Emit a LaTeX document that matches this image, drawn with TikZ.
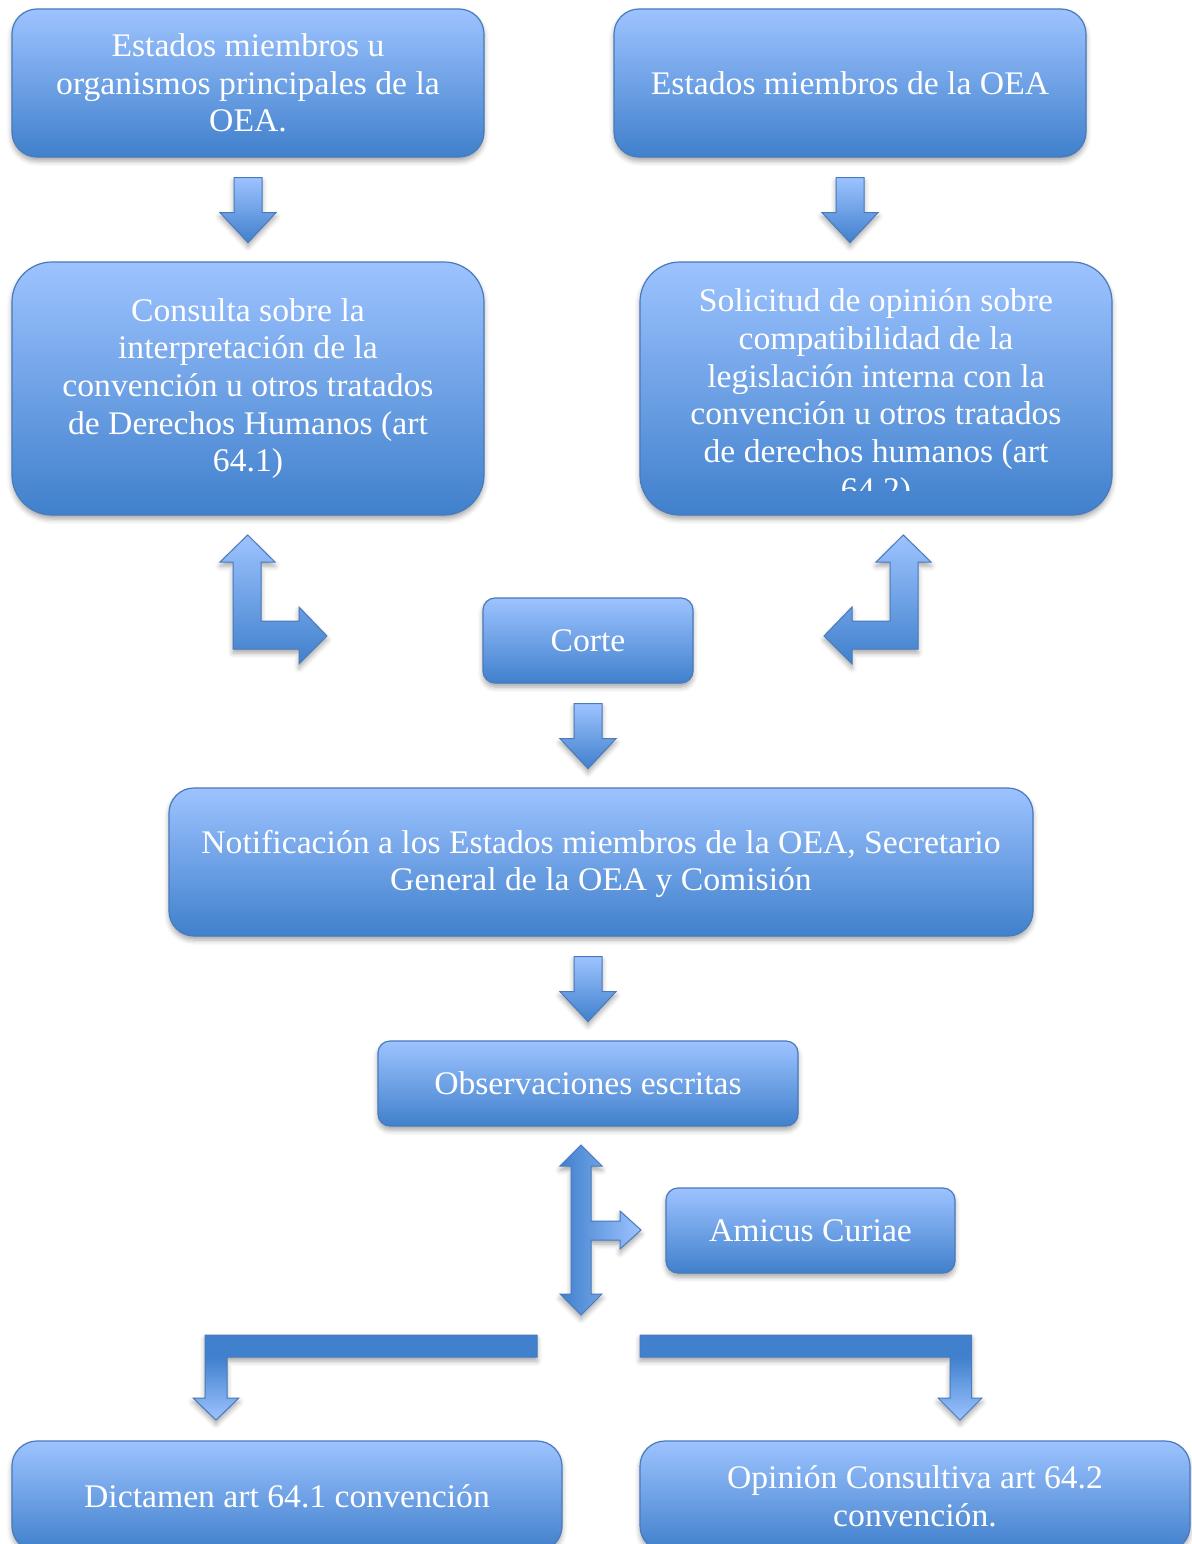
\documentclass[tikz,border=0pt]{standalone}
\usepackage{fontspec}
\setmainfont{Liberation Serif}[FakeStretch=1.02]
\usetikzlibrary{shadows.blur}
\definecolor{btop}{RGB}{157,195,255}
\definecolor{bbot}{RGB}{64,128,204}
\definecolor{bline}{RGB}{72,122,188}
\pgfdeclareverticalshading{bentshade}{100bp}{color(0bp)=(btop); color(25bp)=(btop); color(62bp)=(bbot); color(100bp)=(bbot)}
\begin{document}
\begin{tikzpicture}[x=1pt,y=-1pt,
  shad/.style={blur shadow={shadow xshift=0pt,shadow yshift=-4pt,shadow blur radius=5pt,shadow opacity=35}},
  box/.style={draw=bline,line width=1.2pt,top color=btop,bottom color=bbot,shad,
    text=white,align=center,font=\fontsize{33}{37.7}\selectfont,inner sep=0pt},
  txt/.style={text=white,align=center,font=\fontsize{33}{37.7}\selectfont,inner sep=0pt},
  blk/.style={draw=bline,line width=1pt,line join=miter,top color=btop,bottom color=bbot,shad},
  pics/downarr/.style={code={
    \path[blk] (-14,0) -- (14,0) -- (14,35) -- (28,35) -- (0,65) -- (-28,35) -- (-14,35) -- cycle;}}
]
\useasboundingbox (0,0) rectangle (1191,1544);

% top row
\node[box,rounded corners=25pt,minimum width=472pt,minimum height=148pt] (b1) at (248,83)
  {Estados miembros u\\organismos principales de la\\OEA.};
\node[box,rounded corners=25pt,minimum width=472pt,minimum height=148pt] (b2) at (850,83)
  {Estados miembros de la OEA};

\pic at ([yshift=-20pt]b1.south) {downarr};
\pic at ([yshift=-20pt]b2.south) {downarr};

% second row
\node[box,rounded corners=40pt,minimum width=472pt,minimum height=253pt] (b3) at (248,388.5)
  {Consulta sobre la\\interpretación de la\\convención u otros tratados\\de Derechos Humanos (art\\64.1)};
\node[box,rounded corners=40pt,minimum width=472pt,minimum height=253pt] (b4) at (876,388.5) {};
\begin{scope}
  \clip (640,262) rectangle (1112,490);
  \node[txt] (b4t) at (876,398)
    {Solicitud de opinión sobre\\compatibilidad de la\\legislación interna con la\\convención u otros tratados\\de derechos humanos (art\\64.2)};
\end{scope}

% bent arrows to Corte
\path[blk] (247.7,535) -- (275,562) -- (261,562) -- (261,621) -- (299,621) -- (299,607) -- (327,636)
  -- (299,664) -- (299,649) -- (233,649) -- (233,562) -- (220,562) -- cycle;
\path[blk] (903.3,535) -- (931,562) -- (918,562) -- (918,649) -- (852,649) -- (852,664) -- (824,636)
  -- (852,607) -- (852,621) -- (890,621) -- (890,562) -- (876,562) -- cycle;

\node[box,rounded corners=12pt,minimum width=210pt,minimum height=85pt] (corte) at (588,640.5) {Corte};
\pic at ([yshift=-20pt]corte.south) {downarr};

\node[box,rounded corners=25pt,minimum width=864pt,minimum height=148pt] (b5) at (601,862) {};
\node[txt] (b5t) at (601,864)
  {Notificación a los Estados miembros de la OEA, Secretario\\General de la OEA y Comisión};
\coordinate (a5) at ([yshift=-20pt]b5.south);
\pic at (a5 -| corte) {downarr};

\node[box,rounded corners=12pt,minimum width=420pt,minimum height=85pt] (obs) at (588,1083.5)
  {Observaciones escritas};

% double arrow with branch
\path[draw=bline,line width=1pt,left color=bbot,right color=btop,shad]
  (581,1145) -- (602,1166) -- (591,1166) -- (591,1221) -- (620,1221) -- (620,1211) -- (641,1230)
  -- (620,1249) -- (620,1240) -- (591,1240) -- (591,1294) -- (602,1294) -- (581,1315)
  -- (560,1294) -- (571,1294) -- (571,1166) -- (560,1166) -- cycle;

\node[box,rounded corners=12pt,minimum width=289pt,minimum height=85pt] (amicus) at (810.5,1230.5)
  {Amicus Curiae};

% bottom bent arrows
\path[draw=bline,line width=1pt,shading=bentshade,shad]
  (537,1335) -- (537,1357) -- (227,1357) -- (227,1398) -- (239,1398) -- (216,1420) -- (193,1398)
  -- (205,1398) -- (205,1335) -- cycle;
\path[draw=bline,line width=1pt,shading=bentshade,shad]
  (640,1335) -- (640,1357) -- (950,1357) -- (950,1398) -- (938,1398) -- (960,1420) -- (982,1398)
  -- (971.7,1398) -- (971.7,1335) -- cycle;

\node[box,rounded corners=25pt,minimum width=550pt,minimum height=110pt] (b7) at (287,1496)
  {Dictamen art 64.1 convención};
\node[box,rounded corners=25pt,minimum width=550pt,minimum height=110pt] (b8) at (915,1496)
  {Opinión Consultiva art 64.2\\convención.};
\end{tikzpicture}
\end{document}
